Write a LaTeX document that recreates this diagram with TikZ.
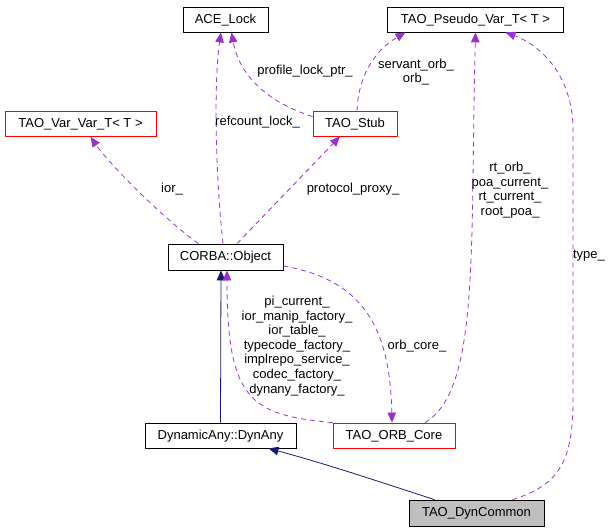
\documentclass[tikz,border=0pt]{standalone}
\usepackage{fontspec}
\setmainfont{Liberation Sans}
\usetikzlibrary{arrows.meta}
\definecolor{edgepurple}{HTML}{9A32CD}
\definecolor{navyedge}{HTML}{191970}
\definecolor{nodegray}{HTML}{BFBFBF}
\begin{document}
\begin{tikzpicture}[x=1pt,y=-1pt,
  box/.style={draw=black, line width=0.8pt, inner sep=0pt, minimum height=25pt,
    font=\fontsize{13}{15}\selectfont, text height=9.5pt, text depth=2.5pt},
  redbox/.style={box, draw=red},
  graybox/.style={box, fill=nodegray},
  useedge/.style={draw=edgepurple, line width=0.8pt, dash pattern=on 5pt off 4pt,
    -{Triangle[length=10pt,width=8.5pt]}},
  inhedge/.style={draw=navyedge, line width=0.8pt, -{Triangle[length=10pt,width=8.5pt]}},
  lbl/.style={font=\fontsize{13}{14.6}\selectfont, align=center, inner sep=0pt}]
\useasboundingbox (0,0) rectangle (613,531);

\node[box, minimum width=85pt] (acelock) at (225.5,19.5) {ACE\_Lock};
\node[box, minimum width=176pt] (pseudo) at (475.5,19.5) {TAO\_Pseudo\_Var\_T< T >};
\node[redbox, minimum width=151pt] (varvar) at (80.5,124) {TAO\_Var\_Var\_T< T >};
\node[redbox, minimum width=84pt] (stub) at (355,123.5) {TAO\_Stub};
\node[box, minimum width=115pt, minimum height=26pt] (obj) at (225.5,257) {CORBA::Object};
\node[box, minimum width=151pt] (dynany) at (220.5,435.5) {DynamicAny::DynAny};
\node[redbox, minimum width=122pt] (orbcore) at (394,435.5) {TAO\_ORB\_Core};
\node[graybox, minimum width=135pt, minimum height=26pt] (dyncommon) at (476.5,513) {TAO\_DynCommon};

% edges
\draw[useedge] ([xshift=-2.5pt]obj.north) .. controls (215,170) and (214,80) .. ([xshift=-4.5pt]acelock.south);
\draw[useedge] ([yshift=7pt]stub.west) .. controls (275,105) and (240,80) .. ([xshift=6pt]acelock.south);
\draw[useedge] ([xshift=2pt]stub.north) .. controls (358,80) and (372,52) .. ([xshift=-70pt]pseudo.south);
\draw[useedge] ([xshift=-27pt]obj.north) .. controls (165,220) and (110,165) .. ([xshift=10pt]varvar.south);
\draw[useedge] ([xshift=11.5pt]obj.north) -- ([xshift=-15pt]stub.south);
\draw[inhedge] (dynany.north) -- ([xshift=-4.5pt]obj.south);
\draw[useedge] (orbcore.north west) .. controls (250,415) and (227,400) .. ([xshift=1.5pt]obj.south);
\draw[useedge] ([yshift=-9pt]obj.east) .. controls (365,280) and (390,330) .. ([xshift=-2pt]orbcore.north);
\draw[useedge] ([xshift=31pt]orbcore.north) .. controls (480,390) and (470,250) .. (pseudo.south);
\draw[useedge] ([xshift=36pt]dyncommon.north) .. controls (560,485) and (573,460) .. (573,400) -- (573,130) .. controls (573,75) and (540,45) .. ([xshift=30pt]pseudo.south);
\draw[inhedge] ([xshift=-42pt]dyncommon.north) .. controls (380,482) and (330,465) .. ([xshift=48pt]dynany.south);

% labels
\node[lbl] (l1) at (257.5,122) {refcount\_lock\_};
\node[lbl] (l2) at (305,71) {profile\_lock\_ptr\_};
\node[lbl] (l3) at (416,72) {servant\_orb\_\\orb\_};
\node[lbl] (l4) at (172,189) {ior\_};
\node[lbl] (l5) at (353,189) {protocol\_proxy\_};
\node[lbl] (l6) at (297,346) {pi\_current\_\\ior\_manip\_factory\_\\ior\_table\_\\typecode\_factory\_\\implrepo\_service\_\\codec\_factory\_\\dynany\_factory\_};
\node[lbl] (l7) at (417,346) {orb\_core\_};
\node[lbl] (l8) at (510,190) {rt\_orb\_\\poa\_current\_\\rt\_current\_\\root\_poa\_};
\node[lbl] (l9) at (589,256) {type\_};
\end{tikzpicture}
\end{document}
